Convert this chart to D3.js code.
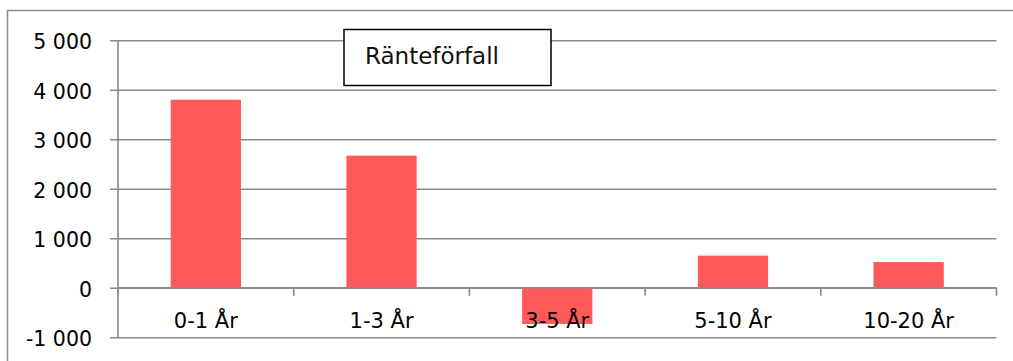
<!DOCTYPE html>
<html>
<head>
<meta charset="utf-8">
<script src="https://cdn.jsdelivr.net/npm/d3@7/dist/d3.min.js"></script>
<style>
  html, body { margin: 0; padding: 0; background: #fff; }
  svg { display: block; }
</style>
</head>
<body>
<svg id="chart" width="1013" height="361"></svg>
<script>
// Ränteförfall per löptidsintervall
const categories = ["0-1 År", "1-3 År", "3-5 År", "5-10 År", "10-20 År"];
const values = [3800, 2670, -730, 650, 520];
const yTicks = [-1000, 0, 1000, 2000, 3000, 4000, 5000];
const title = "Ränteförfall";

const svg = d3.select("#chart");
const W = 1013, H = 361;
const plot = { left: 118, right: 996.5, top: 40.3, bottom: 337.3 };

const gridColor = "#8a8a8a";
const barColor = "#ff5a5a";
const fontFamily = "'DejaVu Sans', Verdana, sans-serif";

// Outer frame (runs past the right and bottom edges)
svg.append("rect")
  .attr("x", 7.5).attr("y", 10.5)
  .attr("width", W + 20).attr("height", H + 20)
  .attr("fill", "#fff")
  .attr("stroke", "#8c8c8c")
  .attr("stroke-width", 1.5);

const y = d3.scaleLinear().domain([-1000, 5000]).range([plot.bottom, plot.top]);
const x = d3.scaleBand().domain(categories)
  .range([plot.left, plot.right])
  .paddingInner(0.6).paddingOuter(0.3);

const locale = d3.formatLocale({ decimal: ",", thousands: " ", grouping: [3], currency: ["", " kr"], minus: "-" });
const fmt = locale.format(",d");

// Horizontal gridlines with left-side ticks and labels
const yAxis = d3.axisLeft(y)
  .tickValues(yTicks)
  .tickFormat(fmt)
  .tickSize(plot.right - 110)
  .tickPadding(18);

const gy = svg.append("g")
  .attr("transform", `translate(${plot.right},0)`)
  .call(yAxis);
gy.select(".domain").remove();
gy.selectAll(".tick line")
  .attr("stroke", gridColor)
  .attr("stroke-width", 1.6);
gy.selectAll(".tick text")
  .attr("dy", "0.4em")
  .attr("fill", "#000")
  .style("font-family", fontFamily)
  .style("font-size", "20.5px");

// Vertical axis line
svg.append("line")
  .attr("x1", plot.left).attr("x2", plot.left)
  .attr("y1", plot.top).attr("y2", plot.bottom)
  .attr("stroke", gridColor)
  .attr("stroke-width", 1.6);

// Bars
svg.append("g").selectAll("rect")
  .data(values)
  .join("rect")
  .attr("x", (d, i) => x(categories[i]))
  .attr("width", x.bandwidth())
  .attr("y", d => y(Math.max(0, d)))
  .attr("height", d => Math.abs(y(d) - y(0)))
  .attr("fill", barColor);

// Zero axis with category boundary ticks
const y0 = y(0);
svg.append("line")
  .attr("x1", plot.left).attr("x2", plot.right)
  .attr("y1", y0).attr("y2", y0)
  .attr("stroke", gridColor)
  .attr("stroke-width", 1.6);

const gap = (x.step() - x.bandwidth()) / 2;
const bounds = categories.map(c => x(c) - gap).concat([plot.right]);
svg.append("g").selectAll("line")
  .data(bounds)
  .join("line")
  .attr("x1", d => d).attr("x2", d => d)
  .attr("y1", y0).attr("y2", y0 + 8)
  .attr("stroke", gridColor)
  .attr("stroke-width", 1.6);

// Category labels
const xAxis = d3.axisBottom(x).tickSize(0).tickPadding(25);
const gx = svg.append("g")
  .attr("transform", `translate(0,${y0})`)
  .call(xAxis);
gx.select(".domain").remove();
gx.selectAll(".tick text")
  .attr("fill", "#000")
  .style("font-family", fontFamily)
  .style("font-size", "21px");

// Title box
svg.append("rect")
  .attr("x", 344).attr("y", 29.5)
  .attr("width", 207).attr("height", 56)
  .attr("fill", "#fff")
  .attr("stroke", "#000")
  .attr("stroke-width", 1.5);
svg.append("text")
  .attr("x", 365).attr("y", 64)
  .attr("fill", "#111")
  .style("font-family", fontFamily)
  .style("font-size", "23px")
  .text(title);
</script>
</body>
</html>
